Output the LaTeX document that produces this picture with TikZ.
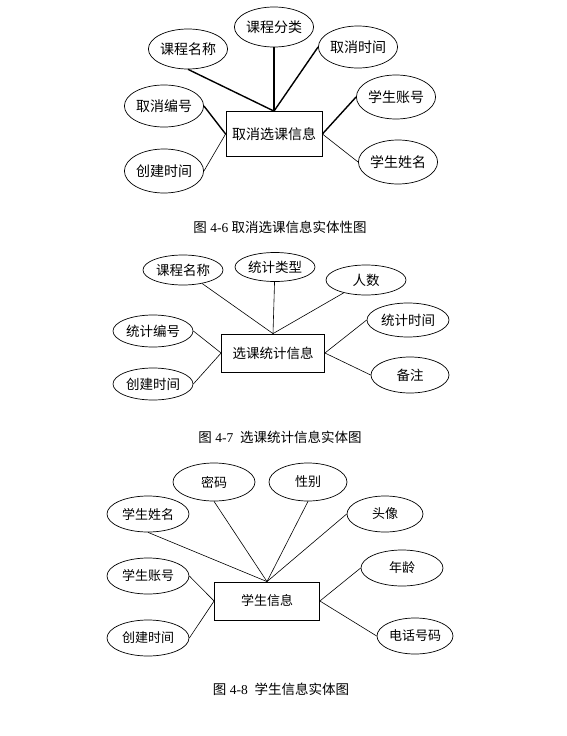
\documentclass[tikz,border=0pt]{standalone}
\usepackage{fontspec}
\setmainfont{Liberation Serif}
\newfontfamily\cjk{Noto Sans CJK SC}
\usepackage{xcolor}
\usepackage{tikz}
\usetikzlibrary{positioning,shapes,calc}

\tikzset{
    attr/.style={draw, ellipse, inner sep=0pt, line width=0.7pt, font=\cjk\fontsize{#1}{#1}\selectfont},
    attr/.default=13.5pt,
    entity/.style={draw, rectangle, inner sep=0pt, line width=0.8pt, font=\cjk\fontsize{#1}{#1}\selectfont},
    entity/.default=13.5pt,
    link/.style={line width=0.6pt},
    boldlink/.style={line width=1.4pt},
    caption/.style={font=\fontsize{13.5pt}{13.5pt}\selectfont}
}

\begin{document}
\begin{tikzpicture}[x=1pt, y=-1pt]
    \useasboundingbox (0,0) rectangle (566,736);

    % 4-6
    \node[entity=14pt, minimum width=96pt, minimum height=45pt] (qx) at (274,134) {取消选课信息};
    \node[attr=14pt, minimum width=76pt, minimum height=40pt] (qx1) at (188,49) {课程名称};
    \node[attr=14pt, minimum width=72pt, minimum height=40pt] (qx2) at (274,27) {课程分类};
    \node[attr=14pt, minimum width=74pt, minimum height=42pt] (qx3) at (358,47) {取消时间};
    \node[attr=14pt, minimum width=74pt, minimum height=42pt] (qx4) at (164,106) {取消编号};
    \node[attr=14pt, minimum width=74pt, minimum height=44pt] (qx5) at (164,171) {创建时间};
    \node[attr=14pt, minimum width=74pt, minimum height=44pt] (qx6) at (396,97) {学生账号};
    \node[attr=14pt, minimum width=70pt, minimum height=44pt] (qx7) at (398,162) {学生姓名};

    \draw[boldlink] (qx1.south) -- (qx.north);
    \draw[boldlink] (qx2.south) -- (qx.north);
    \draw[boldlink] (qx3.west) -- (qx.north);
    \draw[boldlink] (qx4.east) -- (qx.west);
    \draw[link] (qx5.east) -- (qx.west);
    \draw[boldlink] (qx6.west) -- (qx.east);
    \draw[link] (qx7.west) -- (qx.east);

    \node[caption] (cap1) at (280,227) {{\cjk 图} 4-6 {\cjk 取消选课信息实体性图}};

    % 4-7
    \node[entity, minimum width=103pt, minimum height=38pt] (tj) at (273,353) {选课统计信息};
    \node[attr, minimum width=80pt, minimum height=30pt] (tj1) at (183,270) {课程名称};
    \node[attr, minimum width=80pt, minimum height=29pt] (tj2) at (275,267) {统计类型};
    \node[attr, minimum width=80pt, minimum height=30pt] (tj3) at (366,280) {人数};
    \node[attr, minimum width=80pt, minimum height=32pt] (tj4) at (153,331) {统计编号};
    \node[attr, minimum width=80pt, minimum height=32pt] (tj5) at (153,384) {创建时间};
    \node[attr, minimum width=82pt, minimum height=34pt] (tj6) at (408,320) {统计时间};
    \node[attr, minimum width=78pt, minimum height=36pt] (tj7) at (410,375) {备注};

    \foreach \a in {tj1,tj2,tj3}
        \draw[link] (\a) -- (tj.north);
    \draw[link] (tj4.east) -- (tj.west);
    \draw[link] (tj5.east) -- (tj.west);
    \draw[link] (tj6.west) -- (tj.east);
    \draw[link] (tj7.west) -- (tj.east);

    \node[caption] (cap2) at (280,437) {{\cjk 图} 4-7\ \ {\cjk 选课统计信息实体图}};

    % 4-8
    \node[entity=13pt, minimum width=105pt, minimum height=38pt] (xs) at (267,601) {学生信息};
    \node[attr=13pt, minimum width=82pt, minimum height=38pt] (xs1) at (214,482) {密码};
    \node[attr=13pt, minimum width=78pt, minimum height=38pt] (xs2) at (308,482) {性别};
    \node[attr=13pt, minimum width=82pt, minimum height=36pt] (xs3) at (148,514) {学生姓名};
    \node[attr=13pt, minimum width=76pt, minimum height=36pt] (xs4) at (385,514) {头像};
    \node[attr=13pt, minimum width=82pt, minimum height=36pt] (xs5) at (148,576) {学生账号};
    \node[attr=13pt, minimum width=82pt, minimum height=36pt] (xs6) at (402,568) {年龄};
    \node[attr=13pt, minimum width=82pt, minimum height=36pt] (xs7) at (148,638) {创建时间};
    \node[attr=13pt, minimum width=76pt, minimum height=36pt] (xs8) at (415,636) {电话号码};

    \draw[link] (xs3.south) -- (xs.north);
    \draw[link] (xs1.south) -- (xs.north);
    \draw[link] (xs2.south) -- (xs.north);
    \draw[link] (xs4.west) -- (xs.north);
    \draw[link] (xs5.east) -- (xs.west);
    \draw[link] (xs7.east) -- (xs.west);
    \draw[link] (xs6.west) -- (xs.east);
    \draw[link] (xs8.west) -- (xs.east);

    \node[caption] (cap3) at (281,689) {{\cjk 图} 4-8\ \ {\cjk 学生信息实体图}};
\end{tikzpicture}
\end{document}
